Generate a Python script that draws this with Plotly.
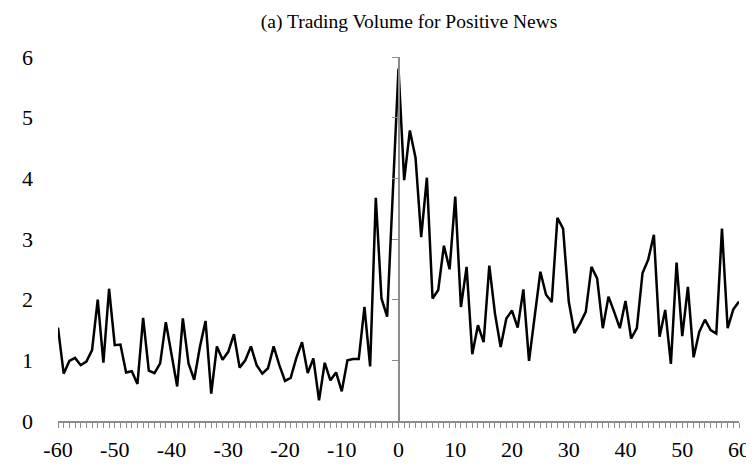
import plotly.graph_objects as go

days = list(range(-60, 61))
volume = [
    1.54, 0.78, 0.99, 1.04, 0.92, 0.98, 1.17, 2.00, 0.96, 2.18,   # -60..-51
    1.25, 1.26, 0.80, 0.82, 0.61, 1.70, 0.83, 0.79, 0.95, 1.63,   # -50..-41
    1.10, 0.57, 1.69, 0.95, 0.68, 1.22, 1.65, 0.45, 1.23, 1.01,   # -40..-31
    1.14, 1.43, 0.88, 1.00, 1.23, 0.92, 0.78, 0.87, 1.23, 0.92,   # -30..-21
    0.66, 0.71, 1.04, 1.30, 0.79, 1.03, 0.34, 0.96, 0.67, 0.80,   # -20..-11
    0.49, 1.00, 1.02, 1.02, 1.88, 0.90, 3.68, 2.02, 1.72, 3.70,   # -10..-1
    5.81,                                                         # 0
    3.97, 4.79, 4.34, 3.03, 4.01, 2.02, 2.16, 2.89, 2.50, 3.70,   # 1..10
    1.88, 2.54, 1.10, 1.58, 1.30, 2.56, 1.77, 1.22, 1.69, 1.82,   # 11..20
    1.54, 2.17, 0.99, 1.72, 2.46, 2.08, 1.96, 3.35, 3.17, 1.97,   # 21..30
    1.45, 1.61, 1.80, 2.54, 2.35, 1.53, 2.05, 1.80, 1.53, 1.98,   # 31..40
    1.36, 1.53, 2.44, 2.66, 3.07, 1.39, 1.83, 0.94, 2.61, 1.40,   # 41..50
    2.21, 1.05, 1.47, 1.67, 1.50, 1.44, 3.17, 1.53, 1.84, 1.97,   # 51..60
]
x_tick_vals = list(range(-60, 61, 10))
x_tick_text = [str(v) for v in x_tick_vals]
y_tick_vals = list(range(0, 7))
title_text = "(a) Trading Volume for Positive News"

axis_gray = "#8c8c8c"
font_family = "Liberation Serif, Times New Roman, serif"

fig = go.Figure()
fig.add_trace(go.Scatter(
    x=days, y=volume, mode="lines",
    line=dict(color="black", width=2.5),
    showlegend=False, hoverinfo="x+y",
))
# transparent copy so the centred y-axis (at x = 0) is drawn
fig.add_trace(go.Scatter(
    x=days, y=volume, mode="lines", yaxis="y2",
    line=dict(color="rgba(0,0,0,0)", width=0),
    showlegend=False, hoverinfo="skip",
))

fig.update_layout(
    width=754, height=466,
    margin=dict(l=50, r=13, t=49, b=45),
    paper_bgcolor="white", plot_bgcolor="white",
    font=dict(family=font_family, color="black", size=22),
    title=dict(text=title_text, x=0.532, xanchor="center", y=0.986, yanchor="top",
               font=dict(family=font_family, size=19.5, color="black")),
    xaxis=dict(
        range=[-60, 60], tickvals=x_tick_vals, ticktext=x_tick_text,
        showgrid=False, zeroline=False,
        showline=True, linecolor=axis_gray, linewidth=1.5,
        ticks="outside", ticklen=5, tickwidth=1.2, tickcolor=axis_gray,
        minor=dict(dtick=1, ticks="outside", ticklen=5, tickwidth=1.2, tickcolor=axis_gray),
        tickfont=dict(family=font_family, size=22, color="black"),
        ticklabelstandoff=3,
    ),
    yaxis=dict(
        range=[0, 6], tickvals=y_tick_vals,
        showgrid=False, zeroline=False, showline=False,
        ticks="", tickfont=dict(family=font_family, size=22, color="black"),
        ticklabelstandoff=24,
    ),
    yaxis2=dict(
        range=[0, 6], tickvals=y_tick_vals, overlaying="y", anchor="free",
        position=0.5, side="left",
        showgrid=False, zeroline=False,
        showline=True, linecolor=axis_gray, linewidth=1.5,
        ticks="outside", ticklen=6, tickwidth=1.2, tickcolor=axis_gray,
        showticklabels=False,
    ),
)

fig.write_html("out.html")
